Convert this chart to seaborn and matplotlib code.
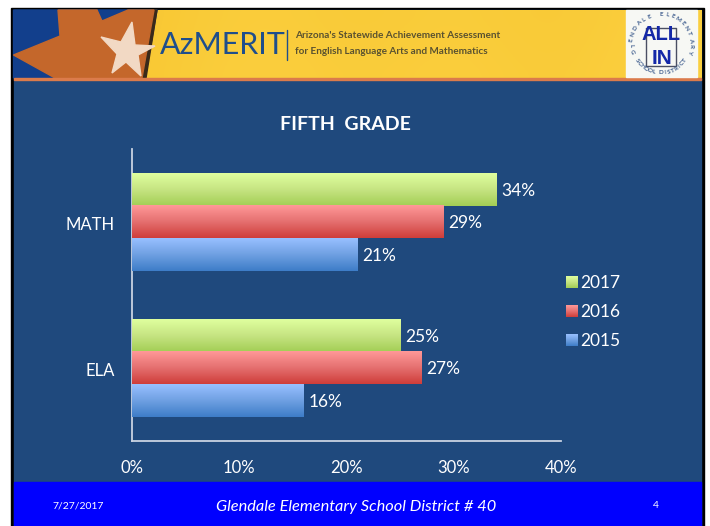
import numpy as np
import pandas as pd
import seaborn as sns
import matplotlib.pyplot as plt
from matplotlib.colors import LinearSegmentedColormap
from matplotlib.patches import Polygon, Rectangle
from matplotlib.transforms import ScaledTranslation

subjects = ['MATH', 'ELA']
years = ['2017', '2016', '2015']
values_2017 = [34, 25]
values_2016 = [29, 27]
values_2015 = [21, 16]
x_ticks = [0, 10, 20, 30, 40]

df = pd.DataFrame({
    'subject': subjects * 3,
    'year': ['2017'] * 2 + ['2016'] * 2 + ['2015'] * 2,
    'value': values_2017 + values_2016 + values_2015,
})

NAVY = '#1F497D'
colors = {'2017': '#C4E27A', '2016': '#EC7B7A', '2015': '#72A3E6'}
ramps = {
    '2017': ['#DFFF9E', '#C6E482', '#A3CE55'],
    '2016': ['#FF9898', '#E57070', '#CF3E3A'],
    '2015': ['#98C0FF', '#6FA0E2', '#3E7DC8'],
}

sns.set_theme(style='white')
plt.rcParams['font.family'] = ['Lato', 'DejaVu Sans']

W, H = 710, 526
fig = plt.figure(figsize=(W / 100, H / 100), dpi=100, facecolor='white')

# slide background, in pixel coordinates
bg = fig.add_axes([0, 0, 1, 1], zorder=0)
bg.set_xlim(0, W)
bg.set_ylim(H, 0)
bg.axis('off')


def gradient(axis, x0, x1, y0, y1, cols, zorder=3):
    cmap = LinearSegmentedColormap.from_list('g', cols)
    axis.imshow(np.linspace(0, 1, 64).reshape(-1, 1), cmap=cmap, aspect='auto',
                extent=(x0, x1, max(y0, y1), min(y0, y1)), origin='upper',
                zorder=zorder, interpolation='bilinear')


bg.add_patch(Rectangle((11, 8), 693, 518, color='black', zorder=1))
bg.add_patch(Rectangle((13.5, 10), 687.5, 516, color=NAVY, zorder=1.5))

# banner
banner = np.array([[0.0, 0.55, 0.95, 0.62, 0.9, 0.55, 1.0]])
cmap_b = LinearSegmentedColormap.from_list('b', ['#E9AE35', '#F9C935', '#FBD040'])
bg.imshow(banner + np.linspace(0, 0.08, 6)[:, None], cmap=cmap_b, aspect='auto', extent=(13.5, 701, 78, 10),
          zorder=2, interpolation='bicubic', vmin=0, vmax=1.08)
bg.add_patch(Polygon([(13.5, 10), (157, 10), (145, 78), (13.5, 78)], color='#123F8C', zorder=2.1))
bg.add_patch(Polygon([(153, 10), (157, 10), (146, 78), (141, 78)], color='#3A2A1A', zorder=2.2))
bg.add_patch(Polygon([(13.5, 55), (60, 36), (58, 10), (97, 10), (102, 21), (128, 10), (154, 10), (142, 78),
                      (55, 78)], color='#C4672B', zorder=2.3))
bg.add_patch(Polygon([(101, 37), (121, 42), (132, 22), (135, 45), (155, 46), (138, 55), (141, 76),
                      (126, 62), (112, 73), (117, 54)], color='#F2D9C4', zorder=2.4))
bg.add_patch(Rectangle((13.5, 78), 687.5, 2, color='#DB7B4B', zorder=3))

bg.text(160, 44.5, 'AzMERIT', color='#1F4E8C', fontsize=22, va='center', ha='left', zorder=4)
bg.plot([287, 287], [30, 60], color='#1F4E8C', lw=1, zorder=4)
bg.text(295, 36, "Arizona's Statewide Achievement Assessment", color='#5A5230', fontsize=7.2, weight='bold',
        va='center', zorder=4)
bg.text(295, 52, 'for English Language Arts and Mathematics', color='#5A5230', fontsize=7.2, weight='bold',
        va='center', zorder=4)

# district logo
bg.add_patch(Rectangle((626, 10), 71, 67, color='#F7F8F4', zorder=4))
for txt, start, end, r in [('GLENDALE ELEMENTARY', 195, -15, 30), ('SCHOOL DISTRICT', 215, 325, 29)]:
    for ch, ang in zip(txt, np.linspace(start, end, len(txt))):
        a = np.radians(ang)
        rot = ang - 90 if 0 <= (ang % 360) <= 180 or ang < 0 else ang + 90
        bg.text(661 + r * np.cos(a), 44 - r * np.sin(a), ch, fontsize=4.5, color='#3B5A8C', rotation=rot,
                ha='center', va='center', weight='bold', zorder=5)
bg.plot([646, 646, 676, 676, 646], [28, 66, 66, 28, 28], color='#4A4F63', lw=1, zorder=4.5)
bg.text(661, 34, 'ALL', fontsize=14.5, weight='bold', color='#1428A8', ha='center', va='center',
        family='Liberation Sans', zorder=5)
bg.text(662, 58, 'IN', fontsize=15, weight='bold', color='#1428A8', ha='center', va='center',
        family='Liberation Sans', zorder=5)

# footer
bg.add_patch(Rectangle((13.5, 482), 687.5, 44, color='#0000FF', zorder=3))
bg.text(78, 506, '7/27/2017', color='white', fontsize=7.5, ha='center', va='center', zorder=4)
bg.text(356.5, 507, 'Glendale Elementary School District # 40', color='white', fontsize=11.8, style='italic',
        ha='center', va='center', zorder=4)
bg.text(656, 506, '4', color='white', fontsize=7.5, ha='center', va='center', zorder=4)
bg.set_xlim(0, W)
bg.set_ylim(H, 0)

# chart
ax = fig.add_axes([132 / W, 1 - 441 / H, (561 - 132) / W, (441 - 149) / H], zorder=1)
ax.patch.set_alpha(0)
sns.barplot(data=df, y='subject', x='value', hue='year', order=subjects, hue_order=years, palette=colors,
            width=0.667, saturation=1, ax=ax, legend=True)

for cont, year in zip(ax.containers, years):
    for bar in cont:
        gradient(ax, bar.get_x(), bar.get_x() + bar.get_width(), bar.get_y(), bar.get_y() + bar.get_height(),
                 ramps[year])
        bar.set_alpha(0)
    for lbl in ax.bar_label(cont, fmt='%d%%', padding=4, color='white', fontsize=12.5):
        lbl.xyann = (3.5, -1)

ax.set_xlim(0, 40)
ax.set_ylim(1.5, -0.5)
ax.set_xticks(x_ticks)
ax.set_xticklabels([f'{t}%' for t in x_ticks])
ax.set_xlabel('')
ax.set_ylabel('')
ax.tick_params(axis='x', length=0, pad=14, labelcolor='white', labelsize=12)
ax.tick_params(axis='y', length=0, pad=12.5, labelcolor='white', labelsize=12)
nudge = ScaledTranslation(0, -1 / 72, fig.dpi_scale_trans)
for lbl in ax.get_yticklabels():
    lbl.set_transform(lbl.get_transform() + nudge)
sns.despine(ax=ax)
for side in ['left', 'bottom']:
    ax.spines[side].set_color('#C9D3E2')
    ax.spines[side].set_linewidth(1.3)

fig.text(345 / W, 1 - 125 / H, 'FIFTH  GRADE', color='white', fontsize=14, weight='bold', ha='center', va='center',
         zorder=5)

handles, labels = ax.get_legend_handles_labels()
leg = ax.legend(handles, labels, loc='center left', bbox_to_anchor=(0.976, 0.442), frameon=False, fontsize=12.5,
                labelcolor='white', handlelength=0.68, handleheight=0.68, labelspacing=0.75, handletextpad=0.11)

# legend swatches get the same gradient as the bars
fig.canvas.draw()
for patch, year in zip(leg.get_patches(), years):
    box = patch.get_window_extent()
    gradient(bg, box.x0, box.x1, H - box.y0, H - box.y1, ramps[year], zorder=6)
    patch.set_alpha(0)
bg.set_xlim(0, W)
bg.set_ylim(H, 0)

fig.savefig('out.png', dpi=100, facecolor='white')
